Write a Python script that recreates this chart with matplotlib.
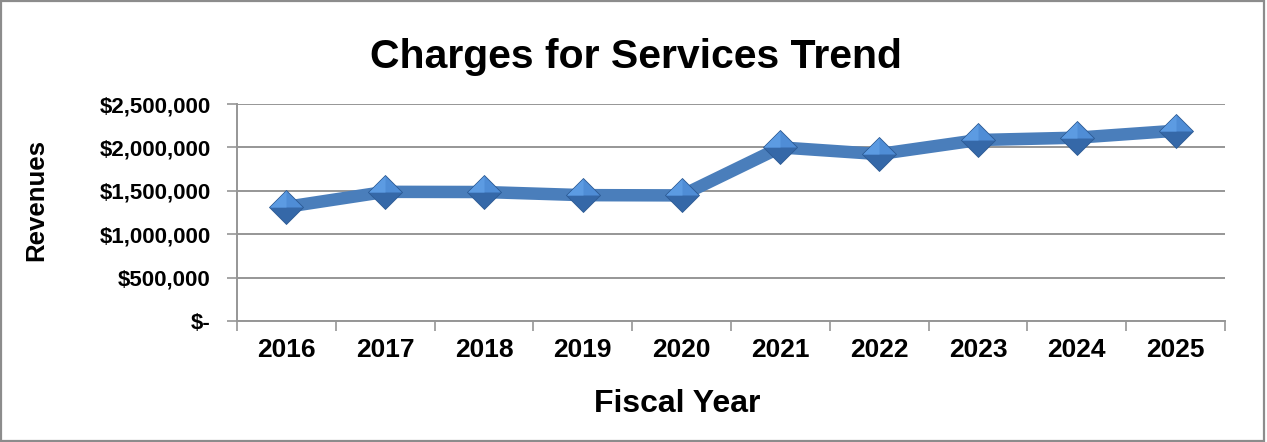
import matplotlib
matplotlib.use("Agg")
import matplotlib.pyplot as plt
from matplotlib.ticker import FuncFormatter, FixedLocator
from matplotlib.path import Path
from matplotlib.patches import Rectangle

years = ["2016", "2017", "2018", "2019", "2020", "2021", "2022", "2023", "2024", "2025"]
revenues = [1315000, 1488000, 1486000, 1450000, 1447000, 2000000, 1923000, 2085000, 2112000, 2192000]

title = "Charges for Services Trend"
xlabel = "Fiscal Year"
ylabel = "Revenues"

plt.rcParams['font.family'] = ['Liberation Sans', 'DejaVu Sans']

fig = plt.figure(figsize=(12.67, 4.42), dpi=100)
fig.patch.set_facecolor('white')
fig.patches.append(Rectangle((0.001, 0.002), 0.997, 0.995, transform=fig.transFigure,
                             fill=False, edgecolor='#8c8c8c', linewidth=1.6))

ax = fig.add_axes([237/1267, 121/442, (1225-237)/1267, (321-104)/442])
x = list(range(len(years)))

line_color = '#4A7EBB'
ax.plot(x, revenues, color=line_color, linewidth=9, solid_joinstyle='round',
        solid_capstyle='round', zorder=3)

# diamond markers with 3D-like shading: base + upper half lighter
ax.plot(x, revenues, linestyle='none', marker='D', markersize=17.5,
        markerfacecolor='#3568A8', markeredgecolor='#2C5A93', markeredgewidth=0.6, zorder=4)
top_half = Path([(-1, 0), (0, 1), (1, 0), (-1, 0)], [Path.MOVETO, Path.LINETO, Path.LINETO, Path.CLOSEPOLY])
ax.plot(x, revenues, linestyle='none', marker=top_half, markersize=23.5,
        markerfacecolor='#4F8DD6', markeredgewidth=0, zorder=5)
left_q = Path([(-1, 0), (0, 1), (0, 0), (-1, 0)], [Path.MOVETO, Path.LINETO, Path.LINETO, Path.CLOSEPOLY])
ax.plot(x, revenues, linestyle='none', marker=left_q, markersize=23.5,
        markerfacecolor='#5C9BE2', markeredgewidth=0, zorder=6)

ax.set_xlim(-0.5, len(years) - 0.5)
ax.set_ylim(0, 2500000)
ax.set_yticks([0, 500000, 1000000, 1500000, 2000000, 2500000])

def money(v, pos):
    if v == 0:
        return "$-"
    return "${:,.0f}".format(v)

ax.yaxis.set_major_formatter(FuncFormatter(money))
ax.grid(axis='y', color='#969696', linewidth=1.4, zorder=0)
ax.set_axisbelow(True)

ax.set_xticks(x)
ax.set_xticklabels(years)
ax.xaxis.set_minor_locator(FixedLocator([i - 0.5 for i in range(len(years) + 1)]))
ax.tick_params(axis='x', which='major', length=0, pad=12, labelsize=19)
ax.tick_params(axis='x', which='minor', length=7, width=1.2, color='#969696')
ax.tick_params(axis='y', which='major', length=7, width=1.2, color='#969696', pad=12, labelsize=16)
for lab in ax.get_xticklabels() + ax.get_yticklabels():
    lab.set_fontweight('bold')

for s in ['top', 'right']:
    ax.spines[s].set_visible(False)
for s in ['left', 'bottom']:
    ax.spines[s].set_color('#969696')
    ax.spines[s].set_linewidth(1.4)

fig.text(636/1267, 1 - 67.5/442, title, ha='center', va='baseline', fontsize=29.5, fontweight='bold')
fig.text(677/1267, 1 - 411.5/442, xlabel, ha='center', va='baseline', fontsize=23, fontweight='bold')
fig.text(36/1267, 1 - 200/442, ylabel, ha='center', va='center', rotation=90, fontsize=18.5, fontweight='bold')

fig.savefig("out.png", dpi=100)
